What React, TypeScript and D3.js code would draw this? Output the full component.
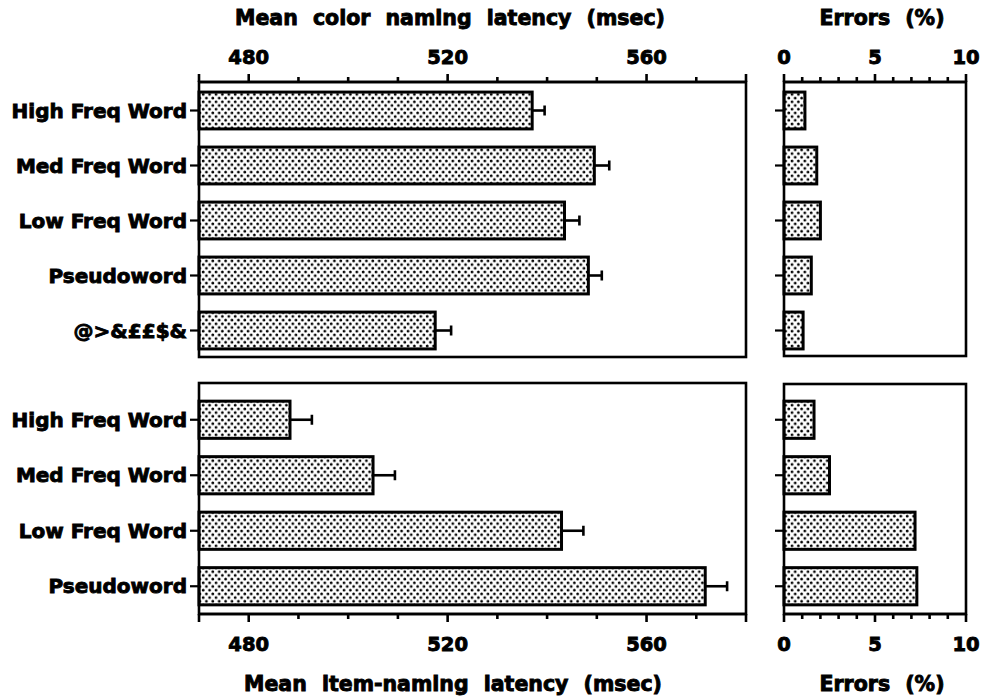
import React from 'react';
import * as d3 from 'd3';

const topCategories = ['High Freq Word', 'Med Freq Word', 'Low Freq Word', 'Pseudoword', '@>&££$&'];
const colorLatency = [537, 549.5, 543.5, 548.3, 517.5];
const colorLatencyErr = [2.5, 3, 3, 2.7, 3.2];
const colorErrors = [1.15, 1.8, 2.0, 1.5, 1.05];

const bottomCategories = ['High Freq Word', 'Med Freq Word', 'Low Freq Word', 'Pseudoword'];
const itemLatency = [488.3, 505, 542.9, 571.8];
const itemLatencyErr = [4.4, 4.4, 4.4, 4.4];
const itemErrors = [1.65, 2.5, 7.2, 7.3];

const latencyTicks = d3.range(470, 581, 10);
const latencyLabels = [480, 520, 560];
const errorTicks = d3.range(0, 11, 1);
const errorLabels = [0, 5, 10];

const FONT = '"DejaVu Sans", sans-serif';
const heavy = { fontFamily: FONT, fontWeight: 'bold' as const, stroke: '#000', strokeWidth: 0.9 };

const xLat = d3.scaleLinear().domain([470, 580]).range([199, 746]);
const xErr = d3.scaleLinear().domain([0, 10]).range([784, 966]);

const yTop = d3.scaleBand<string>().domain(topCategories).range([83, 358]).paddingInner(0.33).paddingOuter(0.165);
const yBot = d3.scaleBand<string>().domain(bottomCategories).range([392, 614]).paddingInner(0.33).paddingOuter(0.165);

type AxisProps = {
  scale: d3.ScaleLinear<number, number>;
  ticks: number[];
  labels: number[];
  y: number;
  dir: number;
  labelY: number;
};

function Axis({ scale, ticks, labels, y, dir, labelY }: AxisProps) {
  const [a, b] = scale.range();
  return (
    <g>
      <line x1={a} x2={b} y1={y} y2={y} stroke="#000" strokeWidth={2.6} />
      {ticks.map((t, i) => {
        const major = labels.includes(t) || i === 0 || i === ticks.length - 1;
        const len = major ? 8 : 5;
        return (
          <line key={t} x1={scale(t)} x2={scale(t)} y1={y} y2={y + dir * len} stroke="#000" strokeWidth={2.6} />
        );
      })}
      {labels.map((t) => (
        <text key={t} x={scale(t)} y={labelY} textAnchor="middle" fontSize={19.5} {...heavy}>
          {t}
        </text>
      ))}
    </g>
  );
}

type PanelProps = {
  x: d3.ScaleLinear<number, number>;
  y: d3.ScaleBand<string>;
  cats: string[];
  values: number[];
  errs?: number[];
  top: number;
  bottom: number;
  labels: boolean;
};

function Panel({ x, y, cats, values, errs, top, bottom, labels }: PanelProps) {
  const [x0, x1] = x.range();
  const bw = y.bandwidth();
  return (
    <g>
      {cats.map((c, i) => {
        const yc = (y(c) as number) + bw / 2;
        const v = values[i];
        return (
          <g key={c}>
            <rect x={x0} y={y(c)} width={x(v) - x0} height={bw} fill="url(#dots)" stroke="#000" strokeWidth={3} />
            {errs && (
              <g stroke="#000" strokeWidth={2.6}>
                <line x1={x(v)} x2={x(v + errs[i])} y1={yc} y2={yc} />
                <line x1={x(v + errs[i])} x2={x(v + errs[i])} y1={yc - 5} y2={yc + 5} />
              </g>
            )}
            <line x1={x0 - 9} x2={x0} y1={yc} y2={yc} stroke="#000" strokeWidth={2.2} />
            {labels && (
              <text x={x0 - 12} y={yc + 7} textAnchor="end" fontSize={20} {...heavy}>
                {c}
              </text>
            )}
          </g>
        );
      })}
      <rect x={x0} y={top} width={x1 - x0} height={bottom - top} fill="none" stroke="#000" strokeWidth={2.6} />
    </g>
  );
}

export default function App() {
  return (
    <svg width={984} height={698} style={{ position: 'absolute', left: 0, top: 0, background: '#fff' }}>
      <defs>
        <pattern id="dots" width={6.4} height={7.4} patternUnits="userSpaceOnUse">
          <rect width={6.4} height={7.4} fill="#fff" />
          <circle cx={1.6} cy={1.85} r={1.4} fill="#000" />
          <circle cx={4.8} cy={5.55} r={1.4} fill="#000" />
        </pattern>
      </defs>

      <text x={450} y={25} textAnchor="middle" fontSize={20.5} wordSpacing={8} {...heavy}>
        Mean color naming latency (msec)
      </text>
      <text x={882} y={25} textAnchor="middle" fontSize={20.5} wordSpacing={8} {...heavy}>
        Errors (%)
      </text>

      <Panel x={xLat} y={yTop} cats={topCategories} values={colorLatency} errs={colorLatencyErr} top={82} bottom={357} labels={true} />
      <Panel x={xErr} y={yTop} cats={topCategories} values={colorErrors} top={82} bottom={356} labels={false} />
      <Axis scale={xLat} ticks={latencyTicks} labels={latencyLabels} y={82} dir={-1} labelY={64} />
      <Axis scale={xErr} ticks={errorTicks} labels={errorLabels} y={82} dir={-1} labelY={64} />

      <Panel x={xLat} y={yBot} cats={bottomCategories} values={itemLatency} errs={itemLatencyErr} top={383} bottom={614} labels={true} />
      <Panel x={xErr} y={yBot} cats={bottomCategories} values={itemErrors} top={384} bottom={614} labels={false} />
      <Axis scale={xLat} ticks={latencyTicks} labels={latencyLabels} y={614} dir={1} labelY={651} />
      <Axis scale={xErr} ticks={errorTicks} labels={errorLabels} y={614} dir={1} labelY={651} />

      <text x={453} y={691} textAnchor="middle" fontSize={20.5} wordSpacing={8} {...heavy}>
        Mean item-naming latency (msec)
      </text>
      <text x={882} y={691} textAnchor="middle" fontSize={20.5} wordSpacing={8} {...heavy}>
        Errors (%)
      </text>
    </svg>
  );
}
